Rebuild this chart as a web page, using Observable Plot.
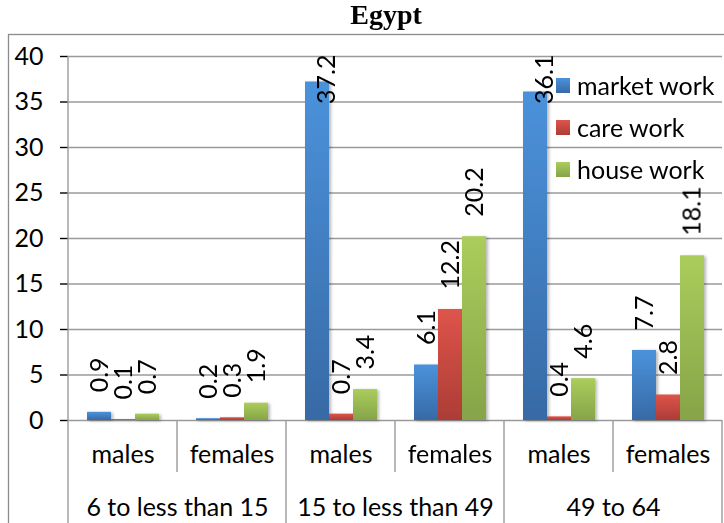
<!DOCTYPE html>
<html>
<head>
<meta charset="utf-8">
<script src="https://cdn.jsdelivr.net/npm/d3@7"></script>
<script src="https://cdn.jsdelivr.net/npm/@observablehq/plot@0.6"></script>
<style>
  html, body { margin: 0; padding: 0; background: #fff; overflow: hidden; }
  #chart { width: 724px; height: 523px; }
  #chart g[aria-label="y-axis tick"] { stroke: #9a9a9a; stroke-width: 1.4px; }
  #chart .tick line { stroke: #9a9a9a; stroke-width: 1.4px; }
</style>
</head>
<body>
<div id="chart"></div>
<script>
// Average weekly hours by work type, Egypt, by age group and sex
const title = "Egypt";
const ageGroups = ["6 to less than 15", "15 to less than 49", "49 to 64"];
const sexes = ["males", "females"];
const workTypes = ["market work", "care work", "house work"];

// one value per age group × sex, in the order males, females for each group
const marketWork = [0.9, 0.2, 37.2, 6.1, 36.1, 7.7];
const careWork   = [0.1, 0.3, 0.7, 12.2, 0.4, 2.8];
const houseWork  = [0.7, 1.9, 3.4, 20.2, 4.6, 18.1];

const yTicks = [0, 5, 10, 15, 20, 25, 30, 35, 40];
const yMax = 40;
// values above this have their label pinned to the top of the plot area
const labelCeiling = 34;

const gradients = [
  {id: "grad-market", top: "#4b92db", bottom: "#376aa6"},
  {id: "grad-care",   top: "#de544a", bottom: "#ac3d36"},
  {id: "grad-house",  top: "#aacd5c", bottom: "#86a448"}
];

// build tidy rows for the library
const seriesValues = [marketWork, careWork, houseWork];
const categories = [];
ageGroups.forEach((g, gi) => sexes.forEach((s, si) => {
  categories.push({key: `${g} · ${s}`, group: g, sex: s, index: gi * 2 + si});
}));
const rows = [];
categories.forEach(c => workTypes.forEach((w, wi) => {
  rows.push({key: c.key, series: w, value: seriesValues[wi][c.index]});
}));

const font = "Lato, 'Open Sans', sans-serif";

const chart = Plot.plot({
  width: 724,
  height: 523,
  marginLeft: 65,
  marginRight: 0,
  marginTop: 56,
  marginBottom: 103,
  style: {fontFamily: font, fontSize: "25px", color: "#000", background: "#fff", overflow: "hidden"},
  fx: {domain: categories.map(c => c.key), padding: 0, axis: null},
  x: {domain: workTypes, paddingInner: 0, paddingOuter: 0.745, axis: null},
  y: {domain: [0, yMax], ticks: yTicks, tickSize: 8, tickPadding: 17, label: null, line: false},
  marks: [
    Plot.ruleY(yTicks, {stroke: "#9a9a9a", strokeWidth: 1.4}),
    ...workTypes.map((w, wi) =>
      Plot.barY(rows.filter(d => d.series === w), {
        fx: "key", x: "series", y: "value", inset: 0, fill: `url(#${gradients[wi].id})`
      })
    ),
    Plot.text(rows.filter(d => d.value <= labelCeiling), {
      fx: "key", x: "series", y: "value", text: d => d.value.toFixed(1),
      rotate: -90, textAnchor: "start", dy: -20, fill: "#000"
    }),
    Plot.text(rows.filter(d => d.value > labelCeiling), {
      fx: "key", x: "series", frameAnchor: "top", text: d => d.value.toFixed(1),
      rotate: -90, textAnchor: "end", dy: -2, fill: "#000"
    }),
    Plot.text(categories, {
      fx: "key", text: "sex", frameAnchor: "bottom", dy: 42, fill: "#000"
    }),
    Plot.text(categories.filter(c => c.sex === "males"), {
      fx: "key", text: "group", frameAnchor: "bottom-right", textAnchor: "middle", dy: 95, fill: "#000"
    })
  ]
});

document.getElementById("chart").append(chart);

// decorations: gradients, shadow, category dividers, legend, border, title
const svg = d3.select(chart);
const defs = svg.insert("defs", ":first-child");
gradients.forEach(g => {
  const lg = defs.append("linearGradient").attr("id", g.id)
    .attr("x1", 0).attr("y1", 0).attr("x2", 0).attr("y2", 1);
  lg.append("stop").attr("offset", "0%").attr("stop-color", g.top);
  lg.append("stop").attr("offset", "100%").attr("stop-color", g.bottom);
});
const shadow = defs.append("filter").attr("id", "bar-shadow")
  .attr("x", "-20%").attr("y", "-5%").attr("width", "150%").attr("height", "115%");
shadow.append("feDropShadow").attr("dx", 2).attr("dy", 1).attr("stdDeviation", 1.6)
  .attr("flood-color", "#000").attr("flood-opacity", 0.28);
svg.selectAll('g[aria-label="bar"]').attr("filter", "url(#bar-shadow)");

const fx = Plot.scale({fx: chart.scale("fx")});
const y = Plot.scale({y: chart.scale("y")});
const y0 = y.apply(0), yTop = y.apply(yMax);
const keys = categories.map(c => c.key);
const edges = keys.map(k => fx.apply(k)).concat([fx.apply(keys[keys.length - 1]) + fx.bandwidth]);

const deco = svg.append("g").attr("stroke", "#9a9a9a").attr("stroke-width", 1.4);
edges.forEach((x, i) => {
  const full = i % 2 === 0;
  deco.append("line")
    .attr("x1", x).attr("x2", x)
    .attr("y1", i === 0 ? yTop : y0)
    .attr("y2", full ? 523 : y0 + 52);
});

// outer chart border
svg.insert("rect", "defs + *")
  .attr("x", 8.5).attr("y", 34.5).attr("width", 900).attr("height", 700)
  .attr("fill", "none").attr("stroke", "#8c8c8c").attr("stroke-width", 1.3);

// title
svg.append("text")
  .attr("x", 386).attr("y", 24)
  .attr("text-anchor", "middle")
  .attr("font-family", "'Liberation Serif', 'Times New Roman', serif")
  .attr("font-weight", "bold").attr("font-size", 28)
  .attr("fill", "#000")
  .text(title);

// legend
const legend = svg.append("g").attr("font-family", font).attr("font-size", 25)
  .attr("text-anchor", "start");
workTypes.forEach((w, i) => {
  const row = legend.append("g").attr("transform", `translate(556, ${78 + i * 42})`);
  row.append("rect").attr("width", 14).attr("height", 15).attr("fill", `url(#${gradients[i].id})`);
  row.append("text").attr("x", 21).attr("y", 17).attr("fill", "#000").text(w);
});
</script>
</body>
</html>
